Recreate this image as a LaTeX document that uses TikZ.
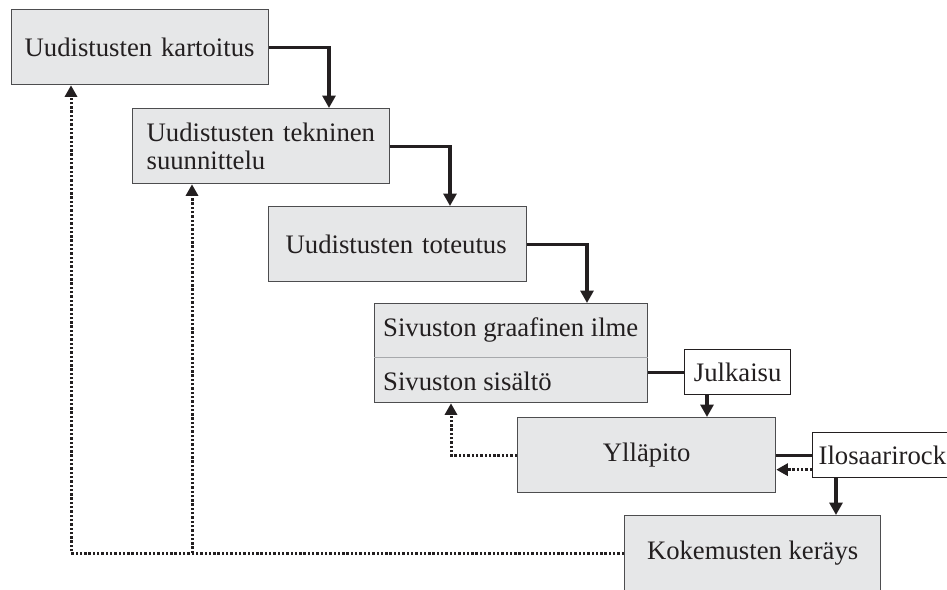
\documentclass[tikz,border=0pt]{standalone}
\usepackage{fontspec}
\setmainfont{Liberation Serif}
\usetikzlibrary{arrows.meta}
\definecolor{boxfill}{HTML}{E6E7E8}
\definecolor{boxline}{HTML}{4D4D4F}
\definecolor{divline}{HTML}{A7A9AC}
\definecolor{ink}{HTML}{231F20}

\begin{document}
\begin{tikzpicture}[x=1pt,y=-1pt,
  font=\fontsize{26.7}{27.5}\selectfont,
  stage/.style={draw=boxline, line width=1.3pt, fill=boxfill, rectangle,
    anchor=north west, inner ysep=0pt, text=ink, minimum height=75pt},
  tag/.style={draw=ink, line width=1.3pt, fill=white, rectangle, anchor=north west,
    inner sep=0pt, text=ink, minimum height=45pt},
  flow/.style={draw=ink, line width=3.1pt, -{Triangle[width=13pt,length=12.5pt]}},
  link/.style={draw=ink, line width=3.1pt},
  back/.style={draw=ink, line width=3pt, dash pattern=on 2.4pt off 1.9pt,
    -{Triangle[width=12pt,length=11.5pt]}},
]
\useasboundingbox (0,0) rectangle (947,589);
\clip (0,0) rectangle (947,589);

% process stages
\node[stage, minimum width=257pt, align=left, inner xsep=13pt, text width=231pt] (b1) at (11,9) {Uudistusten kartoitus};
\node[stage, minimum width=257pt, align=left, inner xsep=14pt, text width=229pt] (b2) at (132,108) {Uudistusten tekninen\\suunnittelu};
\node[stage, minimum width=258pt, align=left, inner xsep=17pt, text width=224pt] (b3) at (268,206) {Uudistusten toteutus};
\node[stage, minimum width=273pt, minimum height=99pt] (b4) at (374,303) {};
\draw[divline, line width=1pt] (b4.west |- 0,357) -- (b4.east |- 0,357);
\node[anchor=west, inner sep=0pt, text=ink] (b4top) at (383,330) {Sivuston graafinen ilme};
\node[anchor=west, inner sep=0pt, text=ink] (b4bot) at (383,381) {Sivuston sisältö};
\node[stage, minimum width=258pt] (yp) at (517,417) {Ylläpito};
\node[stage, minimum width=256pt] (kok) at (624,515) {Kokemusten keräys};

% events
\node[tag, minimum width=106pt] (julk) at (684,349) {Julkaisu};
\node[tag, minimum width=150pt, align=left, inner xsep=6pt, text width=138pt] (ilo) at (812,432) {Ilosaarirock};

% main flow
\draw[flow] (b1.east) -| ([xshift=197pt]b2.north west);
\draw[flow] (b2.east) -| ([xshift=182pt]b3.north west);
\draw[flow] (b3.east) -| ([xshift=213pt]b4.north west);
\draw[link] (b4.east |- julk.west) -- (julk.west);
\draw[flow] ([xshift=23pt]julk.south west) -- ([xshift=23pt]julk.south west |- yp.north);
\draw[link] (yp.east |- ilo.west) -- (ilo.west);
\draw[flow] ([xshift=24pt]ilo.south west) -- ([xshift=24pt]ilo.south west |- kok.north);

% feedback
\draw[back] ([yshift=-14.5pt]ilo.west) -- ([yshift=-14.5pt]ilo.west -| yp.east);
\draw[back] (yp.west) -| ([xshift=77pt]b4.south west);
\draw[back] (kok.west) -| ([xshift=60pt]b1.south west);
\coordinate (split) at ([xshift=60pt]b2.south west |- kok.west);
\draw[back] (split) -- ([xshift=60pt]b2.south west);
\end{tikzpicture}
\end{document}
